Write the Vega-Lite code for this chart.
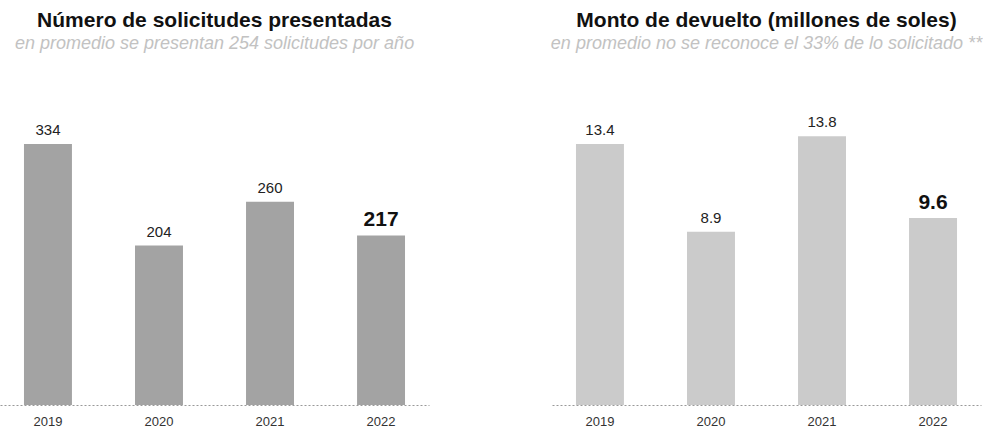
{
  "$schema": "https://vega.github.io/schema/vega-lite/v6.json",
  "background": "white",
  "padding": {"left": 0, "right": 0, "top": 10, "bottom": 0},
  "spacing": 121,
  "config": {
    "font": "Liberation Sans",
    "view": {"stroke": null},
    "title": {"fontSize": 21, "fontWeight": "bold", "color": "#111", "anchor": "middle", "subtitleFontSize": 18, "subtitleFontStyle": "italic", "subtitleColor": "#c2c2c2", "subtitlePadding": 4, "offset": 49}
  },
  "datasets": {
    "solicitudes": [
      {"anio": "2019", "valor": 334},
      {"anio": "2020", "valor": 204},
      {"anio": "2021", "valor": 260},
      {"anio": "2022", "valor": 217}
    ],
    "monto": [
      {"anio": "2019", "valor": 13.4},
      {"anio": "2020", "valor": 8.9},
      {"anio": "2021", "valor": 13.8},
      {"anio": "2022", "valor": 9.6}
    ]
  },
  "hconcat": [
    {
      "title": {"text": "Número de solicitudes presentadas", "subtitle": "en promedio se presentan 254 solicitudes por año"},
      "width": 429,
      "height": 303,
      "data": {"name": "solicitudes"},
      "encoding": {
        "x": {"field": "anio", "type": "nominal", "title": null, "scale": {"paddingInner": 0.568, "paddingOuter": 0.216},
              "axis": {"labelAngle": 0, "ticks": false, "labelFontSize": 13, "labelColor": "#333", "labelPadding": 10, "domainColor": "#999", "domainDash": [2, 2], "domainWidth": 1}},
        "y": {"field": "valor", "type": "quantitative", "scale": {"domain": [0, 387.7]}, "axis": null}
      },
      "layer": [
        {"mark": {"type": "bar", "color": "#a3a3a3"}},
        {"transform": [{"filter": "datum.anio != '2022'"}],
         "mark": {"type": "text", "baseline": "alphabetic", "dy": -9, "color": "#222", "fontSize": 15},
         "encoding": {"text": {"field": "valor", "type": "quantitative", "format": "d"}}},
        {"transform": [{"filter": "datum.anio == '2022'"}],
         "mark": {"type": "text", "baseline": "alphabetic", "dy": -9, "color": "#111", "fontSize": 21, "fontWeight": "bold"},
         "encoding": {"text": {"field": "valor", "type": "quantitative", "format": "d"}}}
      ]
    },
    {
      "title": {"text": "Monto de devuelto  (millones de soles)", "subtitle": "en promedio no se reconoce el 33% de lo solicitado **"},
      "width": 429,
      "height": 303,
      "data": {"name": "monto"},
      "encoding": {
        "x": {"field": "anio", "type": "nominal", "title": null, "scale": {"paddingInner": 0.568, "paddingOuter": 0.216},
              "axis": {"labelAngle": 0, "ticks": false, "labelFontSize": 13, "labelColor": "#333", "labelPadding": 10, "domainColor": "#999", "domainDash": [2, 2], "domainWidth": 1}},
        "y": {"field": "valor", "type": "quantitative", "scale": {"domain": [0, 15.56]}, "axis": null}
      },
      "layer": [
        {"mark": {"type": "bar", "color": "#cbcbcb"}},
        {"transform": [{"filter": "datum.anio != '2022'"}],
         "mark": {"type": "text", "baseline": "alphabetic", "dy": -9, "color": "#222", "fontSize": 15},
         "encoding": {"text": {"field": "valor", "type": "quantitative", "format": ".1f"}}},
        {"transform": [{"filter": "datum.anio == '2022'"}],
         "mark": {"type": "text", "baseline": "alphabetic", "dy": -9, "color": "#111", "fontSize": 21, "fontWeight": "bold"},
         "encoding": {"text": {"field": "valor", "type": "quantitative", "format": ".1f"}}}
      ]
    }
  ]
}
